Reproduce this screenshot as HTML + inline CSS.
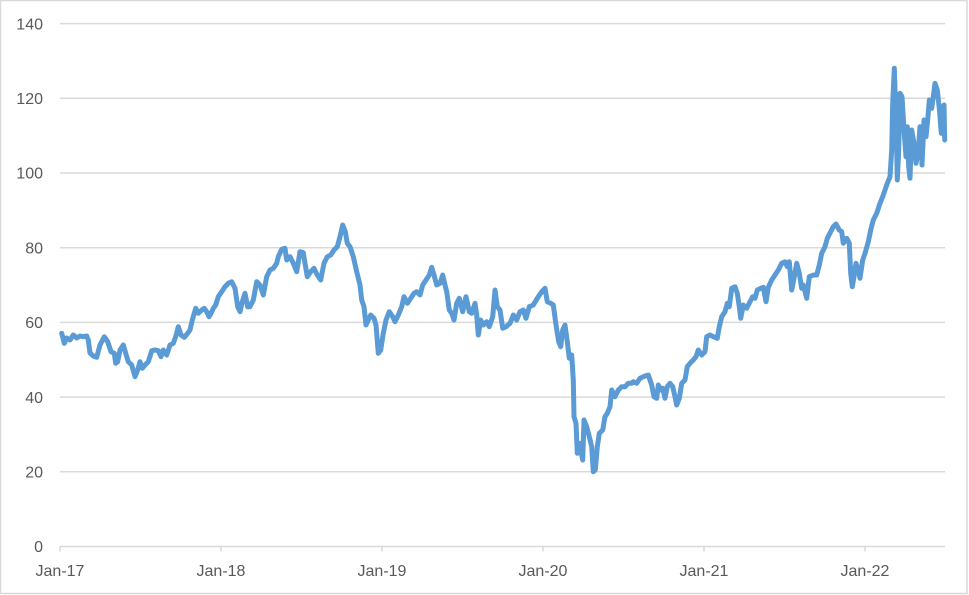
<!DOCTYPE html>
<html>
<head>
<meta charset="utf-8">
<style>
html,body{margin:0;padding:0;background:#fff;}
svg{display:block;}
text{font-family:"Liberation Sans",sans-serif;font-size:16px;fill:#595959;}
</style>
</head>
<body>
<svg width="969" height="595" viewBox="0 0 969 595" xmlns="http://www.w3.org/2000/svg">
<rect x="0.5" y="0.5" width="966.5" height="593" fill="#fff" stroke="#d9d9d9" stroke-width="1.5"/>
<g stroke="#d9d9d9" stroke-width="1.5">
<line x1="60" y1="23.6" x2="945" y2="23.6"/>
<line x1="60" y1="98.3" x2="945" y2="98.3"/>
<line x1="60" y1="173" x2="945" y2="173"/>
<line x1="60" y1="247.7" x2="945" y2="247.7"/>
<line x1="60" y1="322.4" x2="945" y2="322.4"/>
<line x1="60" y1="397.1" x2="945" y2="397.1"/>
<line x1="60" y1="471.8" x2="945" y2="471.8"/>
<line x1="60" y1="546.5" x2="945" y2="546.5"/>
<line x1="60" y1="546.5" x2="60" y2="551.5"/>
<line x1="221" y1="546.5" x2="221" y2="551.5"/>
<line x1="382" y1="546.5" x2="382" y2="551.5"/>
<line x1="543" y1="546.5" x2="543" y2="551.5"/>
<line x1="704" y1="546.5" x2="704" y2="551.5"/>
<line x1="865" y1="546.5" x2="865" y2="551.5"/>
</g>
<g text-anchor="end">
<text x="43" y="29.3">140</text>
<text x="43" y="104">120</text>
<text x="43" y="178.7">100</text>
<text x="43" y="253.4">80</text>
<text x="43" y="328.1">60</text>
<text x="43" y="402.8">40</text>
<text x="43" y="477.5">20</text>
<text x="43" y="552.2">0</text>
</g>
<g text-anchor="middle">
<text x="60" y="576">Jan-17</text>
<text x="221" y="576">Jan-18</text>
<text x="382" y="576">Jan-19</text>
<text x="543" y="576">Jan-20</text>
<text x="704" y="576">Jan-21</text>
<text x="865" y="576">Jan-22</text>
</g>
<polyline fill="none" stroke="#5b9bd5" stroke-width="5" stroke-linejoin="round" stroke-linecap="round" points="
61.7,333.3 64.3,343.3 66.7,338 70,340 73.3,335 76.7,338 80,336 83.3,336.7 86.7,336 88.3,340 90,353 93.3,356 96.7,357.3 100,345 104.3,336.7 107.7,341.7 111,351.7 114.3,353.3 115.7,363.3 117.7,361.7 120,350 123.3,345 125.7,353.3 128.3,361.7 131.7,365 135,376.7 137.7,370 140,361.7 142.3,368.3 145,365 148.3,361.7 151.7,350.7 155,350 158.3,350.7 161,356.7 163.3,350 166.7,355 170,345 173.3,343.3 175.7,336.7 178.3,326.7 181,335 184.3,337.3 187.7,333.3 190,330 192.3,320 195.7,308.3 198.3,313.3 201.7,310 204.3,308.3 206.7,311.7 209,316.7 211,313.3 213.3,308.3 215.7,305 218.3,296.7 221.7,291.7 225,286.7 228.3,283.3 231.7,281.7 235,288.3 237.7,306.7 240,311.7 242.3,301.7 245,293.3 247.7,306.7 250,306.7 253.3,300 256.7,281.7 260,285 263.3,295 266.7,276.7 270,270 273.3,268.3 276.7,263.3 278.3,256.7 281.7,249.3 285,248.3 286.7,260 290,256.7 293.3,263.3 296.7,271.7 300,251.7 303.3,252.7 305,263.3 307.3,276.7 310.7,271.7 314,268.3 317.3,275 320.7,280 324,263.3 327.3,256.7 330.7,255 334,250 337.3,246.7 340,236.7 342.7,225 345.3,231.7 347.3,243.3 350,246.7 353.3,256.7 356.7,271.7 360,285 361.7,300 364,306.7 366,325 368.3,320 370.7,315 374,318.3 376,325 378.3,353.3 380.7,350 383.3,333.3 386,320 389.3,311.7 392.7,316.7 395,321.7 398.3,315 401.7,306.7 404,296.7 407.3,303.3 410.7,298.3 414,293.3 416.7,291.7 420,295 422.7,285 426,280 429.3,275 431.7,267.3 434,275 436.7,285 440,283.3 442.7,275 445,285 446.7,291.7 449.3,310 451.7,313.3 454,320 456.7,303.3 459.3,298.3 462.7,311.7 466,296.7 469.3,311.7 471.7,313.3 475,303.3 476.7,315 478.3,335 480.7,320 483.3,325 486.7,321.7 489.3,326.7 492.7,316.7 495,290 497.3,306.7 500,310 502.7,328.3 506,326.7 510,323.3 513.3,315 516.7,320 520,311.7 523.3,310 526,318.3 529.3,306.7 533.3,305 537.3,298.3 541.7,291.7 545,288.3 547.3,301.7 550.7,303.3 553.3,305 556,325 558.7,341.7 560.7,346.7 562.7,330 565,325 567.3,341.7 569.3,358.3 571.7,355 573.3,380 574,416.7 576,423.3 577.3,453.3 579.3,443.3 580.7,450 582.7,460 584,420 586.7,426.7 589.3,436.7 591.7,446.7 593.3,471.7 595.3,470 597.3,446.7 599.3,433.3 602.7,430 605,416.7 607.3,413.3 610,406.7 611.7,390 615,396.7 618.3,390 621.7,386.7 625,386.7 628.3,383.3 631.7,383.3 633.3,381.7 636.7,383.3 640,378.3 645,376 648.3,375 651.7,385 654,396.7 656.7,398.3 658.3,385 660.7,390 662.7,388.3 665,398.3 667.3,386.7 670,383.3 672.7,386.7 675,396.7 676.7,405 679.3,398.3 681.7,383.3 685,380 687.3,366.7 690,363.3 693.3,360 696,356.7 698.3,350 701.7,355 705,351.7 706.7,336.7 710,335 713.3,336.7 717.3,338.3 719.3,326.7 721.7,316.7 725,311.7 727.3,303.3 729.3,306.7 731.7,288.3 735,286.7 737.3,293.3 739.3,306.7 740.7,318.3 743.3,305 746.7,308.3 750,301.7 752.7,296.7 755,298.3 757.3,290 760.7,288.3 763.3,287.3 766,301.7 768.3,287.3 771.7,280 775,275 778.3,270 781.7,263.3 785,261.7 787.3,266.7 789.3,261.7 791.7,290 794,278.3 796.7,263.3 799.3,273.3 801.7,288.3 803.3,285 806.7,298.3 809.3,276.7 813.3,275 816.7,275 819.3,265 821.7,253.3 825,246.7 827.3,238.3 830.7,231.7 833.3,226.7 836,224 839.3,230 841.7,231.7 843.3,243.3 846.7,238.3 849.3,243.3 850.7,273.3 852.3,286.7 854,276.7 856,263.3 858.3,270 860,278.3 862.7,260 865,253.3 868.3,241.7 870.7,230 873.3,220 876.7,213.3 880,203.3 882.7,196.7 885,190 887.3,183.3 890,176.7 891.7,150 892.7,103.3 894.3,68.3 896,116.7 897.3,180 898.7,150 900,93.3 902,96.7 904,130 906,156.7 907.3,126.7 908.7,166.7 910,178.3 911.7,130 914,143.3 916,163.3 918.3,150 920,126.7 922,165 924,120 926,136.7 927.7,120 929.3,100 931.7,108.3 933.3,96.7 935,83.3 937.3,90 939.3,108.3 941.3,133.3 942.7,120 944,105 944.7,140"/>
</svg>
</body>
</html>
